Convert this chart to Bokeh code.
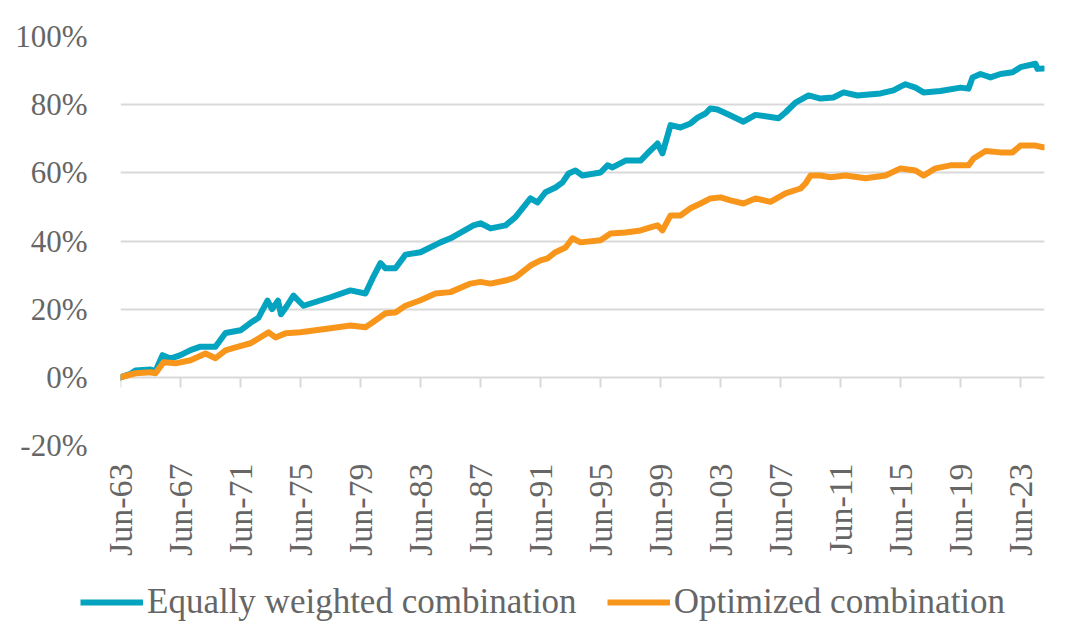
from math import pi
from bokeh.plotting import figure
from bokeh.layouts import column
from bokeh.models import (FixedTicker, PrintfTickFormatter, Legend, LegendItem,
                          Range1d, ColumnDataSource)
from bokeh.embed import file_html
from bokeh.resources import INLINE

# ---- data ----
eq_dates = [1963.5, 1964.17, 1964.5, 1965.5, 1965.83, 1966.3, 1966.83, 1967.5, 1968.17,
            1968.83, 1969.83, 1970.5, 1971.5, 1972.17, 1972.7, 1973.3, 1973.6, 1974.0,
            1974.2, 1974.6, 1975.03, 1975.7, 1977.5, 1978.83, 1979.83, 1980.3, 1980.83,
            1981.17, 1981.83, 1982.5, 1983.5, 1984.83, 1985.5, 1987.03, 1987.5, 1988.17,
            1989.17, 1989.83, 1990.83, 1991.3, 1991.83, 1992.5, 1992.97, 1993.37, 1993.83,
            1994.3, 1995.5, 1995.97, 1996.3, 1997.17, 1998.17, 1998.7, 1999.3, 1999.63,
            2000.17, 2000.83, 2001.5, 2001.97, 2002.5, 2002.83, 2003.3, 2004.17, 2005.03,
            2005.83, 2006.83, 2007.37, 2007.83, 2008.5, 2009.37, 2010.17, 2011.03, 2011.7,
            2012.63, 2014.17, 2015.03, 2015.5, 2015.83, 2016.5, 2017.03, 2018.17, 2019.5,
            2020.03, 2020.3, 2020.83, 2021.5, 2022.17, 2022.97, 2023.5, 2024.5, 2024.63,
            2025.0]
eq_values = [0, 1, 2, 2.3, 1.8, 6.5, 5.5, 6.5, 8,
             9, 9, 13, 13.8, 16, 17.5, 22.5, 20, 22.5,
             18.5, 21, 24, 21, 23.5, 25.5, 24.6, 29, 33.5,
             32, 32, 36, 36.7, 39.6, 40.8, 44.6, 45.2, 43.7,
             44.6, 47, 52.5, 51.3, 54.3, 55.7, 57.2, 59.8, 60.7,
             59.2, 60.1, 62.2, 61.6, 63.6, 63.6, 66, 68.6, 65.7,
             74, 73.3, 74.5, 76.2, 77.4, 78.9, 78.6, 76.8, 75,
             77, 76.4, 76, 77.7, 80.6, 82.7, 81.8, 82.1, 83.6,
             82.7, 83.3, 84.2, 85.3, 86, 85, 83.6, 84, 85,
             84.7, 88, 89, 88, 89, 89.5, 91, 92, 90.5,
             90.6]

opt_dates = [1963.5, 1964.5, 1965.5, 1965.83, 1966.37, 1967.17, 1968.17, 1969.17, 1969.83,
             1970.5, 1971.17, 1972.17, 1972.7, 1973.37, 1973.83, 1974.5, 1975.5, 1977.5,
             1978.83, 1979.83, 1980.3, 1981.17, 1981.83, 1982.5, 1983.5, 1984.5, 1985.5,
             1986.83, 1987.5, 1988.17, 1989.17, 1989.83, 1990.83, 1991.5, 1991.97, 1992.5,
             1993.17, 1993.63, 1994.17, 1995.5, 1996.17, 1997.17, 1998.17, 1998.83, 1999.3,
             1999.63, 2000.17, 2000.83, 2001.5, 2002.17, 2002.83, 2003.5, 2004.17, 2005.03,
             2005.83, 2006.83, 2007.83, 2008.83, 2009.17, 2009.5, 2010.17, 2010.83, 2011.83,
             2013.17, 2014.5, 2015.5, 2016.5, 2017.03, 2017.83, 2018.83, 2020.03, 2020.37,
             2021.17, 2022.17, 2022.97, 2023.5, 2024.5, 2025.0]
opt_values = [0, 1.2, 1.5, 1.2, 4.4, 4.1, 5, 7, 5.6,
              7.9, 8.8, 10, 11.4, 13.2, 11.7, 12.9, 13.2, 14.4,
              15.2, 14.7, 16.1, 18.8, 19, 21, 22.6, 24.6, 25,
              27.5, 28, 27.5, 28.4, 29.3, 32.8, 34.3, 34.9, 36.7,
              38.1, 40.8, 39.6, 40.2, 42.2, 42.5, 43.1, 44, 44.6,
              43.1, 47.5, 47.5, 49.6, 51, 52.5, 52.8, 51.9, 51,
              52.5, 51.5, 54, 55.4, 56.9, 59.2, 59.2, 58.7, 59.2,
              58.4, 59.2, 61.3, 60.7, 59.2, 61.3, 62.2, 62.2, 64.2,
              66.4, 66, 66, 68, 68, 67.5]

tick_positions = [1963.5, 1967.5, 1971.5, 1975.5, 1979.5, 1983.5, 1987.5, 1991.5,
                  1995.5, 1999.5, 2003.5, 2007.5, 2011.5, 2015.5, 2019.5, 2023.5]
tick_labels = ["Jun-63", "Jun-67", "Jun-71", "Jun-75", "Jun-79", "Jun-83", "Jun-87",
               "Jun-91", "Jun-95", "Jun-99", "Jun-03", "Jun-07", "Jun-11", "Jun-15",
               "Jun-19", "Jun-23"]
y_ticks = [-20, 0, 20, 40, 60, 80, 100]

series_names = ["Equally weighted combination", "Optimized combination"]

# ---- styling ----
FONT = "Liberation Serif"
TEXT = "#666666"
GRID = "#d9d9d9"
BLUE = "#04a3bf"
ORANGE = "#f8961c"
LW = 6

p = figure(frame_width=924, frame_height=409, output_backend="svg", toolbar_location=None,
           x_range=Range1d(1963.5, 2025.1), y_range=Range1d(-20, 100),
           min_border_left=120, min_border_right=27, min_border_top=36,
           min_border_bottom=135)
p.outline_line_color = None
p.background_fill_color = "white"
p.border_fill_color = "white"

# y axis
p.yaxis.ticker = FixedTicker(ticks=y_ticks)
p.yaxis.formatter = PrintfTickFormatter(format="%d%%")
p.yaxis.axis_line_color = None
p.yaxis.major_tick_line_color = None
p.yaxis.minor_tick_line_color = None
p.yaxis.major_label_standoff = 27
p.yaxis.major_label_text_font = FONT
p.yaxis.major_label_text_font_size = "31px"
p.yaxis.major_label_text_color = TEXT

# x axis
p.xaxis.ticker = FixedTicker(ticks=tick_positions)
p.xaxis.major_label_overrides = {t: l for t, l in zip(tick_positions, tick_labels)}
p.xaxis.axis_line_color = None
p.xaxis.major_tick_line_color = None
p.xaxis.minor_tick_line_color = None
p.xaxis.major_tick_out = 0
p.xaxis.major_tick_in = 0
p.xaxis.minor_tick_out = 0
p.xaxis.major_label_orientation = pi / 2
p.xaxis.major_label_standoff = 18
p.xaxis.major_label_text_font = FONT
p.xaxis.major_label_text_font_size = "34px"
p.xaxis.major_label_text_color = TEXT

p.xgrid.grid_line_color = None
p.ygrid.ticker = FixedTicker(ticks=y_ticks)
p.ygrid.grid_line_color = GRID
p.ygrid.grid_line_width = 2

# tick marks hanging from the zero line
p.segment(x0=tick_positions, y0=[0] * len(tick_positions),
          x1=tick_positions, y1=[-3] * len(tick_positions),
          line_color=GRID, line_width=2)

eq_src = ColumnDataSource(dict(x=eq_dates, y=eq_values))
opt_src = ColumnDataSource(dict(x=opt_dates, y=opt_values))
p.line("x", "y", source=eq_src, line_color=BLUE, line_width=LW,
       line_join="round", line_cap="round")
p.line("x", "y", source=opt_src, line_color=ORANGE, line_width=LW,
       line_join="round", line_cap="round")

# ---- legend strip (own small figure, same series styles) ----
lg = figure(width=1071, height=55, output_backend="svg", toolbar_location=None,
            x_range=Range1d(0, 1), y_range=Range1d(0, 1), min_border=0)
lg.axis.visible = False
lg.grid.visible = False
lg.outline_line_color = None
lg.border_fill_color = "white"
l_eq = lg.line(eq_dates, eq_values, line_color=BLUE, line_width=LW)
l_opt = lg.line(opt_dates, opt_values, line_color=ORANGE, line_width=LW)
legend = Legend(items=[LegendItem(label=series_names[0], renderers=[l_eq]),
                       LegendItem(label=series_names[1], renderers=[l_opt])],
                orientation="horizontal", location=(80, 13),
                label_text_font=FONT, label_text_font_size="35px",
                label_text_color=TEXT, glyph_width=63, glyph_height=36,
                label_standoff=4, spacing=30, padding=0, margin=0,
                border_line_color=None, background_fill_alpha=0)
lg.add_layout(legend, "center")

# keep the legend strip's frame independent of the chart's frame
for fig in (p, lg):
    try:
        fig.frame_align = False
    except Exception:
        pass

layout = column(p, lg, spacing=0)
open("out.html", "w").write(file_html(layout, INLINE))
